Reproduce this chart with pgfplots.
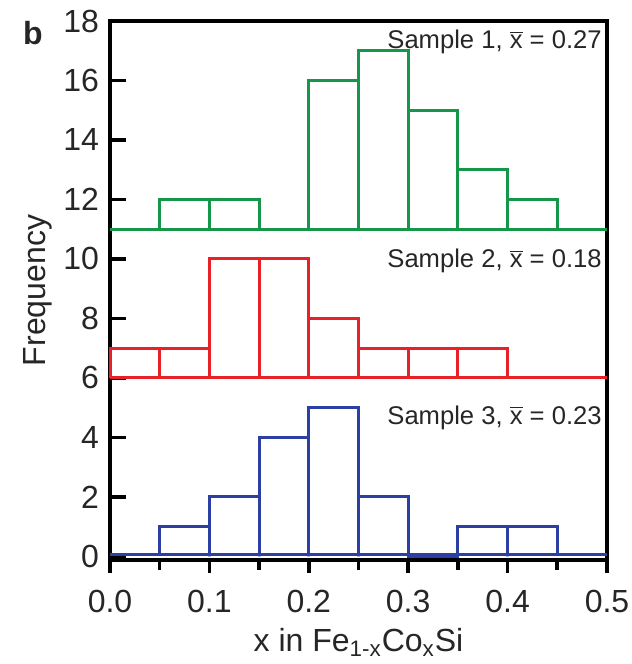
\documentclass[border=0pt]{standalone}
\usepackage{fontspec}
\setmainfont{Liberation Sans}
\usepackage{pgfplots}
\pgfplotsset{compat=1.18}
\definecolor{cgreen}{RGB}{22,150,72}
\definecolor{cred}{RGB}{232,32,40}
\definecolor{cblue}{RGB}{44,64,164}
\begin{document}
\begin{tikzpicture}
\path[use as bounding box] (0,0) rectangle (316bp,332bp);
\begin{axis}[
  at={(55bp,52bp)}, anchor=south west,
  scale only axis, width=248.5bp, height=269.5bp,
  xmin=0, xmax=0.5, ymin=-0.12, ymax=18,
  xtick={0,0.1,0.2,0.3,0.4,0.5},
  xticklabels={0.0,0.1,0.2,0.3,0.4,0.5},
  ytick={0,2,...,18},
  tick pos=left,
  major tick length=0pt, minor tick length=0pt,
  axis line style={line width=1.8bp},
  /pgf/number format/assume math mode=true,
  tick label style={font=\fontsize{16bp}{18bp}\selectfont, text=black!85},
  label style={font=\fontsize{16bp}{18bp}\selectfont, text=black!85},
  xticklabel style={yshift=-11.5bp},
  yticklabel style={xshift=-2bp},
  xlabel={x in Fe\textsubscript{1-x}Co\textsubscript{x}Si},
  ylabel={Frequency},
  xlabel style={at={(rel axis cs:0.5,0)}, anchor=center, yshift=-41bp},
  ylabel style={at={(rel axis cs:0,0.5)}, anchor=center, yshift=36bp},
  clip=false,
  unbounded coords=jump,
]
% tick marks: y inward, x outward (major and minor)
\addplot[black, line width=1.8bp, forget plot] coordinates {
 (0,0)(0.0161,0) (nan,nan) (0,2)(0.0161,2) (nan,nan) (0,4)(0.0161,4) (nan,nan)
 (0,6)(0.0161,6) (nan,nan) (0,8)(0.0161,8) (nan,nan) (0,10)(0.0161,10) (nan,nan)
 (0,12)(0.0161,12) (nan,nan) (0,14)(0.0161,14) (nan,nan) (0,16)(0.0161,16) (nan,nan)
 (0,18)(0.0161,18)};
\addplot[black, line width=1.8bp, forget plot] coordinates {
 (0,-0.12)(0,-0.56) (nan,nan) (0.1,-0.12)(0.1,-0.56) (nan,nan)
 (0.2,-0.12)(0.2,-0.56) (nan,nan) (0.3,-0.12)(0.3,-0.56) (nan,nan)
 (0.4,-0.12)(0.4,-0.56) (nan,nan) (0.5,-0.12)(0.5,-0.56) (nan,nan)
 (0.05,-0.12)(0.05,-0.45) (nan,nan) (0.15,-0.12)(0.15,-0.45) (nan,nan)
 (0.25,-0.12)(0.25,-0.45) (nan,nan) (0.35,-0.12)(0.35,-0.45) (nan,nan)
 (0.45,-0.12)(0.45,-0.45)};
% Sample 1 (baseline 11)
\addplot[cgreen, line width=1.5bp, line join=miter] coordinates {
 (0,11) (0.5,11)};
\addplot[cgreen, line width=1.5bp, line join=miter] coordinates {
 (0.05,11)(0.05,12)(0.1,12)(0.1,11)(0.1,12)(0.15,12)(0.15,11)
 (0.2,11)(0.2,16)(0.25,16)(0.25,11)(0.25,17)(0.3,17)(0.3,11)
 (0.3,15)(0.35,15)(0.35,11)(0.35,13)(0.4,13)(0.4,11)(0.4,12)(0.45,12)(0.45,11)};
% Sample 2 (baseline 6)
\addplot[cred, line width=1.5bp, line join=miter] coordinates {
 (0,6) (0.5,6)};
\addplot[cred, line width=1.5bp, line join=miter] coordinates {
 (0,6)(0,7)(0.05,7)(0.05,6)(0.05,7)(0.1,7)(0.1,6)
 (0.1,10)(0.15,10)(0.15,6)(0.15,10)(0.2,10)(0.2,6)
 (0.2,8)(0.25,8)(0.25,6)(0.25,7)(0.3,7)(0.3,6)
 (0.3,7)(0.35,7)(0.35,6)(0.35,7)(0.4,7)(0.4,6)};
% Sample 3 (baseline 0)
\addplot[cblue, line width=1.5bp, line join=miter] coordinates {
 (0,0.05) (0.5,0.05)};
\addplot[cblue, line width=1.5bp, line join=miter] coordinates {
 (0.05,0)(0.05,1)(0.1,1)(0.1,0)(0.1,2)(0.15,2)(0.15,0)
 (0.15,4)(0.2,4)(0.2,0)(0.2,5)(0.25,5)(0.25,0)
 (0.25,2)(0.3,2)(0.3,0)(0.35,0)
 (0.35,1)(0.4,1)(0.4,0)(0.4,1)(0.45,1)(0.45,0)};
\node[anchor=east, font=\fontsize{12.8bp}{14bp}\selectfont, text=black!85, inner sep=1bp] at (axis cs:0.497,17.3) {Sample 1, $\overline{\mbox{x}}$ = 0.27};
\node[anchor=east, font=\fontsize{12.8bp}{14bp}\selectfont, text=black!85, inner sep=1bp] at (axis cs:0.497,9.93) {Sample 2, $\overline{\mbox{x}}$ = 0.18};
\node[anchor=east, font=\fontsize{12.8bp}{14bp}\selectfont, text=black!85, inner sep=1bp] at (axis cs:0.497,4.67) {Sample 3, $\overline{\mbox{x}}$ = 0.23};
\node[font=\fontsize{16bp}{18bp}\selectfont\bfseries, text=black!85] at (rel axis cs:0,1) [xshift=-38.5bp, yshift=-6bp] {b};
\end{axis}
\end{tikzpicture}
\end{document}
